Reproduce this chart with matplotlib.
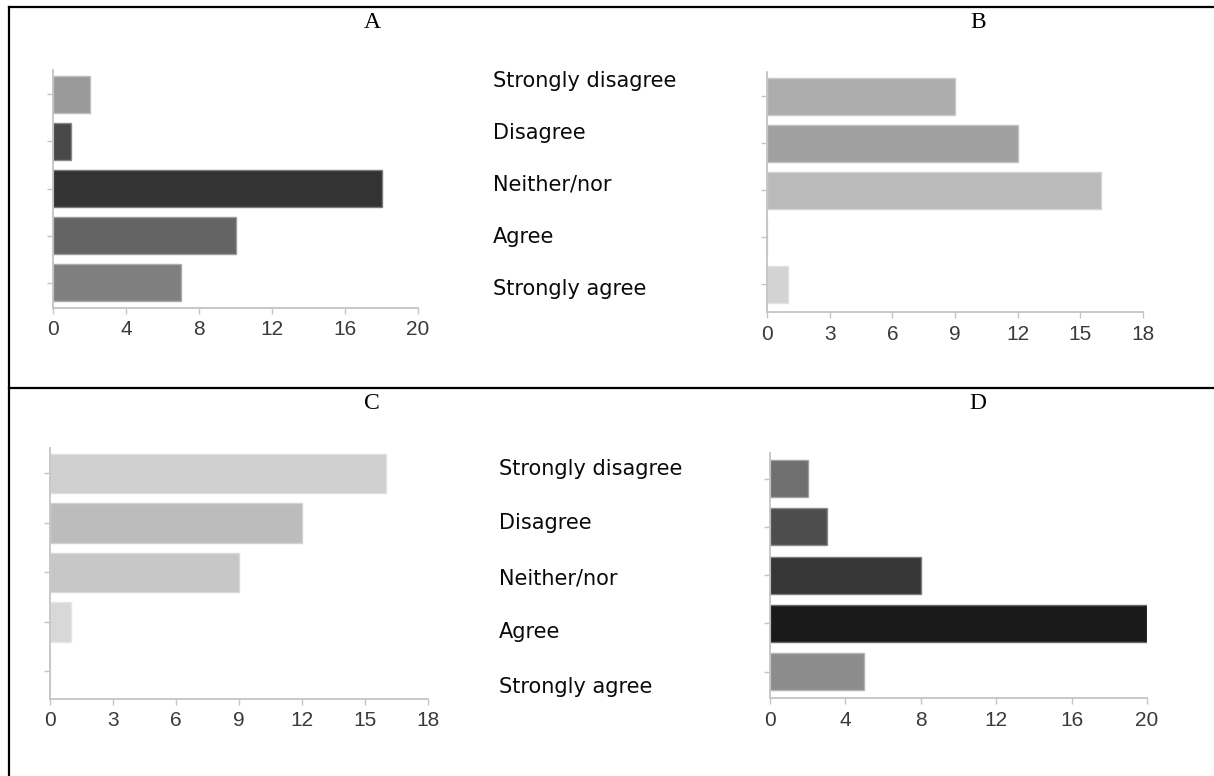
import matplotlib
matplotlib.use("Agg")
import matplotlib.pyplot as plt
from matplotlib.lines import Line2D
from matplotlib.colors import to_rgb

# ── data ──────────────────────────────────────────────────────────────────────
categories = ["Strongly disagree", "Disagree", "Neither/nor", "Agree", "Strongly agree"]

a_values = [2, 1, 18, 10, 7]
b_values = [9, 12, 16, 0, 1]
c_values = [16, 12, 9, 1, 0]
d_values = [2, 3, 8, 20, 5]

a_colors = ["#999999", "#484848", "#333333", "#646464", "#7f7f7f"]
b_colors = ["#adadad", "#a0a0a0", "#bababa", "#c4c4c4", "#d3d3d3"]
c_colors = ["#cfcfcf", "#bcbcbc", "#c6c6c6", "#d8d8d8", "#dddddd"]
d_colors = ["#6f6f6f", "#4d4d4d", "#363636", "#1a1a1a", "#8c8c8c"]

ticks_20 = [0, 4, 8, 12, 16, 20]
ticks_18 = [0, 3, 6, 9, 12, 15, 18]

# ── layout (pixels of a 1214x776 canvas) ─────────────────────────────────────
W, H = 1214, 776
AXIS = "#c4c4c4"
plt.rcParams["font.family"] = ["Liberation Sans", "DejaVu Sans"]

fig = plt.figure(figsize=(W / 100, H / 100), dpi=100)
fig.patch.set_facecolor("white")


def px_axes(left, right, top, bottom):
    return fig.add_axes([left / W, 1 - bottom / H, (right - left) / W, (bottom - top) / H])


def lighten(c, f=0.35):
    r, g, b = to_rgb(c)
    return (r + (1 - r) * f, g + (1 - g) * f, b + (1 - b) * f)


def draw_panel(ax, values, colors, ticks, ylim, height):
    y = list(range(len(values)))
    ax.barh(y, values, height=height, color=colors,
            edgecolor=[lighten(c) for c in colors], linewidth=1)
    ax.set_xlim(ticks[0], ticks[-1])
    ax.set_ylim(*ylim)
    ax.set_xticks(ticks)
    ax.set_yticks(y)
    ax.set_yticklabels([])
    ax.set_facecolor("none")
    for s in ("top", "right"):
        ax.spines[s].set_visible(False)
    for s in ("left", "bottom"):
        ax.spines[s].set_color(AXIS)
        ax.spines[s].set_linewidth(1.3)
    ax.tick_params(axis="x", length=4, width=1, color=AXIS,
                   labelsize=15, labelcolor="#3a3a3a", pad=5)
    ax.tick_params(axis="y", length=4, width=1, color=AXIS)


# A
ax_a = px_axes(53, 418, 70, 308)
draw_panel(ax_a, a_values, a_colors, ticks_20, (4.54, -0.52), 0.79)
# B
ax_b = px_axes(767, 1143, 72, 312)
draw_panel(ax_b, b_values, b_colors, ticks_18, (4.585, -0.52), 0.79)
# C
ax_c = px_axes(50, 428, 448, 699)
draw_panel(ax_c, c_values, c_colors, ticks_18, (4.556, -0.515), 0.79)
# D
ax_d = px_axes(770, 1147, 453, 698)
draw_panel(ax_d, d_values, d_colors, ticks_20, (4.545, -0.53), 0.77)

# category labels (free-standing text between the panels)
for cat, base in zip(categories, [87, 139, 191, 243, 295]):
    fig.text(493 / W, 1 - base / H, cat, ha="left", va="baseline",
             family="DejaVu Sans", fontsize=15, color="#0a0a0a")
for cat, base in zip(categories, [475, 529, 584, 638, 693]):
    fig.text(499 / W, 1 - base / H, cat, ha="left", va="baseline",
             family="DejaVu Sans", fontsize=15, color="#0a0a0a")

# panel letters
for letter, x, y in [("A", 372, 23), ("B", 978, 23), ("C", 372, 403), ("D", 978, 403)]:
    fig.text(x / W, 1 - y / H, letter, ha="center", va="center",
             family="Liberation Serif", fontsize=17, color="black")

# table borders
fig.add_artist(Line2D([9 / W, 1], [1 - 7 / H, 1 - 7 / H], transform=fig.transFigure,
                      color="black", lw=1.6))
fig.add_artist(Line2D([9 / W, 1], [1 - 388 / H, 1 - 388 / H], transform=fig.transFigure,
                      color="black", lw=1.6))
fig.add_artist(Line2D([9 / W, 9 / W], [0, 1 - 7 / H], transform=fig.transFigure,
                      color="black", lw=1.6))

fig.savefig("out.png", dpi=100, facecolor="white")
